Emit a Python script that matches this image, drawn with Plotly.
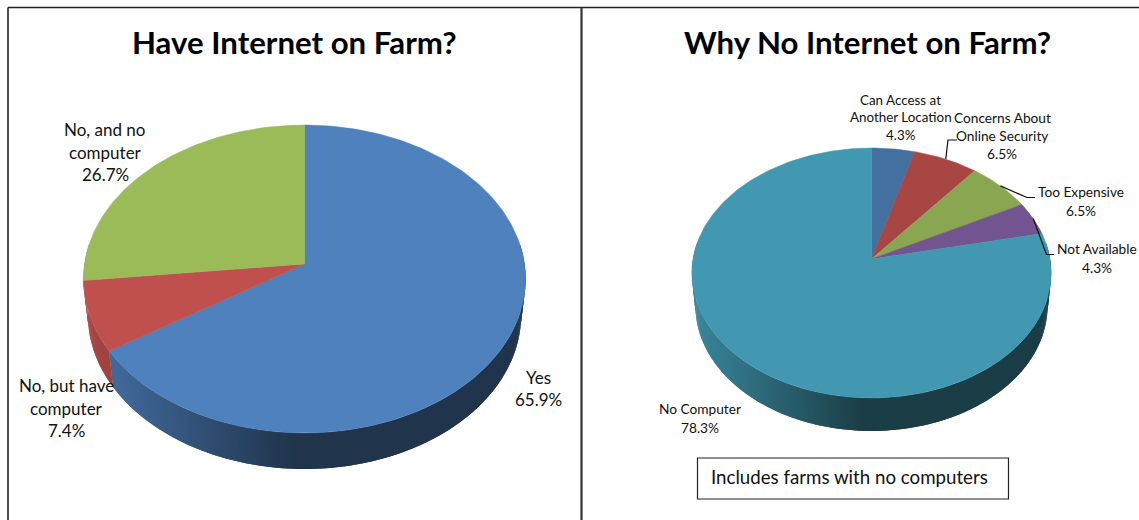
import math
import plotly.graph_objects as go

# ---------- data ----------
have_labels = ["Yes", "No, but have computer", "No, and no computer"]
have_values = [65.9, 7.4, 26.7]
why_labels = ["Can Access at Another Location", "Concerns About Online Security",
              "Too Expensive", "Not Available", "No Computer"]
why_values = [4.3, 6.5, 6.5, 4.3, 78.3]

# ---------- styles ----------
have_colors = ["#4f81bd", "#c0504d", "#9bbb59"]
why_colors = ["#43709f", "#a84644", "#8aa650", "#725590", "#4198b0"]
FONT = "Lato, Carlito, Calibri, sans-serif"
INK = "#111111"

# apex x, apex y, half-width, vertical scale, perspective, rim depth, base taper
have_geo = dict(cx=304.5, cy=264, A=220, B=152.5, k=0.0974, depth=36, taper=0.98)
why_geo = dict(cx=871.5, cy=259, A=178.5, B=123.4, k=0.112, depth=33, taper=0.98)


def rim(geo, deg):
    t = math.radians(deg)
    u, v = math.sin(t), -math.cos(t)
    w = 1 - geo["k"] * v
    return geo["cx"] + geo["A"] * u / w, geo["cy"] + geo["B"] * v / w


def base(geo, deg):
    x, y = rim(geo, deg)
    return geo["cx"] + (x - geo["cx"]) * geo["taper"], y + geo["depth"]


def rgb(hexa):
    return tuple(int(hexa[i:i + 2], 16) for i in (1, 3, 5))


def side_color(hexa, x, geo):
    left = geo["cx"] - geo["A"]
    t = min(1.0, max(0.0, (x - left) / (geo["A"] * 0.95)))
    f = 0.88 - 0.48 * t
    r, g, b = rgb(hexa)
    return f"rgb({r * f:.0f},{g * f:.0f},{b * f:.0f})"


def draw_pie(fig, values, colors, geo):
    spans, a = [], 0.0
    total = sum(values)
    for val in values:
        b = a + val / total * 360
        spans.append((a, b))
        a = b
    # rim side, in narrow overlapping strips drawn from right to left
    for (a, b), col in zip(spans, colors):
        lo, hi = max(a, 82), min(b, 278)
        if hi <= lo:
            continue
        n = max(1, int((hi - lo) / 0.8))
        for i in range(n):
            d0 = lo + (hi - lo) * i / n
            d1 = min(hi, d0 + (hi - lo) / n + 0.8)
            x0, y0 = rim(geo, d0)
            x1, y1 = rim(geo, d1)
            bx0, by0 = base(geo, d0)
            bx1, by1 = base(geo, d1)
            c = side_color(col, (x0 + x1) / 2, geo)
            fig.add_trace(go.Scatter(x=[x0, x1, bx1, bx0, x0], y=[y0, y1, by1, by0, y0],
                                     mode="lines", fill="toself", fillcolor=c,
                                     line=dict(width=0), hoverinfo="skip", showlegend=False))
    # top faces
    for (a, b), col in zip(spans, colors):
        n = max(2, int((b - a) / 1.0))
        pts = [rim(geo, a + (b - a) * i / n) for i in range(n + 1)]
        xs = [geo["cx"]] + [p[0] for p in pts] + [geo["cx"]]
        ys = [geo["cy"]] + [p[1] for p in pts] + [geo["cy"]]
        fig.add_trace(go.Scatter(x=xs, y=ys, mode="lines", fill="toself", fillcolor=col,
                                 line=dict(color=col, width=0.5), hoverinfo="skip",
                                 showlegend=False))


def mid_angle(values, idx):
    total = sum(values)
    return (sum(values[:idx]) + values[idx] / 2) / total * 360


def pct(v):
    return f"{v:.1f}%"


fig = go.Figure()
draw_pie(fig, have_values, have_colors, have_geo)
draw_pie(fig, why_values, why_colors, why_geo)

# leader lines: rim point from data, then elbow
leaders = [(1, [(948, 140), (957, 140)]),
           (2, [(1027, 197.5), (1035, 197.5)]),
           (3, [(1046.5, 254.5), (1054, 254.5)])]
for idx, elbow in leaders:
    x0, y0 = rim(why_geo, mid_angle(why_values, idx))
    fig.add_trace(go.Scatter(x=[x0] + [p[0] for p in elbow], y=[y0] + [p[1] for p in elbow],
                             mode="lines", line=dict(color="#111111", width=1.2),
                             hoverinfo="skip", showlegend=False))

annotations = []


def text(x, y, s, size, bold=False):
    annotations.append(dict(x=x, y=y, xref="x", yref="y", text=f"<b>{s}</b>" if bold else s,
                            showarrow=False, xanchor="center", yanchor="middle",
                            font=dict(family=FONT, size=size, color="#000000" if bold else INK)))


def block(x, y, lines, size, gap):
    for i, line in enumerate(lines):
        text(x, y + i * gap, line, size)


text(294.5, 42, "Have Internet on Farm?", 31.2, True)
text(867, 42, "Why No Internet on Farm?", 31.2, True)

block(105, 129.5, ["No, and no", "computer", pct(have_values[2])], 17, 22.5)
block(66.5, 385.5, ["No, but have", "computer", pct(have_values[1])], 17, 22.5)
block(538, 377.5, [have_labels[0], pct(have_values[0])], 17, 22)

block(900.5, 99.5, ["Can Access at", "Another Location", pct(why_values[0])], 13.4, 17.8)
block(1002, 117, ["Concerns About", "Online Security", pct(why_values[1])], 13.7, 18)
block(1081, 191.5, [why_labels[2], pct(why_values[2])], 13.7, 19)
block(1097, 248.5, [why_labels[3], pct(why_values[3])], 13.7, 18.5)
block(699.5, 408.5, [why_labels[4], pct(why_values[4])], 13.7, 19)
text(849.5, 477, "Includes farms with no computers", 18.7)

line = dict(color="#222222", width=1.6)
shapes = [
    dict(type="line", x0=8, x1=1139, y0=7.5, y1=7.5, xref="x", yref="y", line=line),
    dict(type="line", x0=8, x1=8, y0=7.5, y1=520, xref="x", yref="y", line=line),
    dict(type="line", x0=581.5, x1=581.5, y0=7.5, y1=520, xref="x", yref="y",
         line=dict(color="#333333", width=2.2)),
    dict(type="rect", x0=697.5, x1=1008.5, y0=458, y1=499, xref="x", yref="y",
         line=dict(color="#222222", width=1.2), fillcolor="#ffffff"),
]

fig.update_layout(
    width=1139, height=520, margin=dict(l=0, r=0, t=0, b=0),
    paper_bgcolor="#ffffff", plot_bgcolor="#ffffff", showlegend=False,
    xaxis=dict(range=[0, 1139], visible=False, fixedrange=True),
    yaxis=dict(range=[520, 0], visible=False, fixedrange=True),
    annotations=annotations, shapes=shapes,
)

fig.write_html("out.html", config=dict(displayModeBar=False),
               post_script="document.body.style.margin='0';document.body.style.overflow='hidden';")
